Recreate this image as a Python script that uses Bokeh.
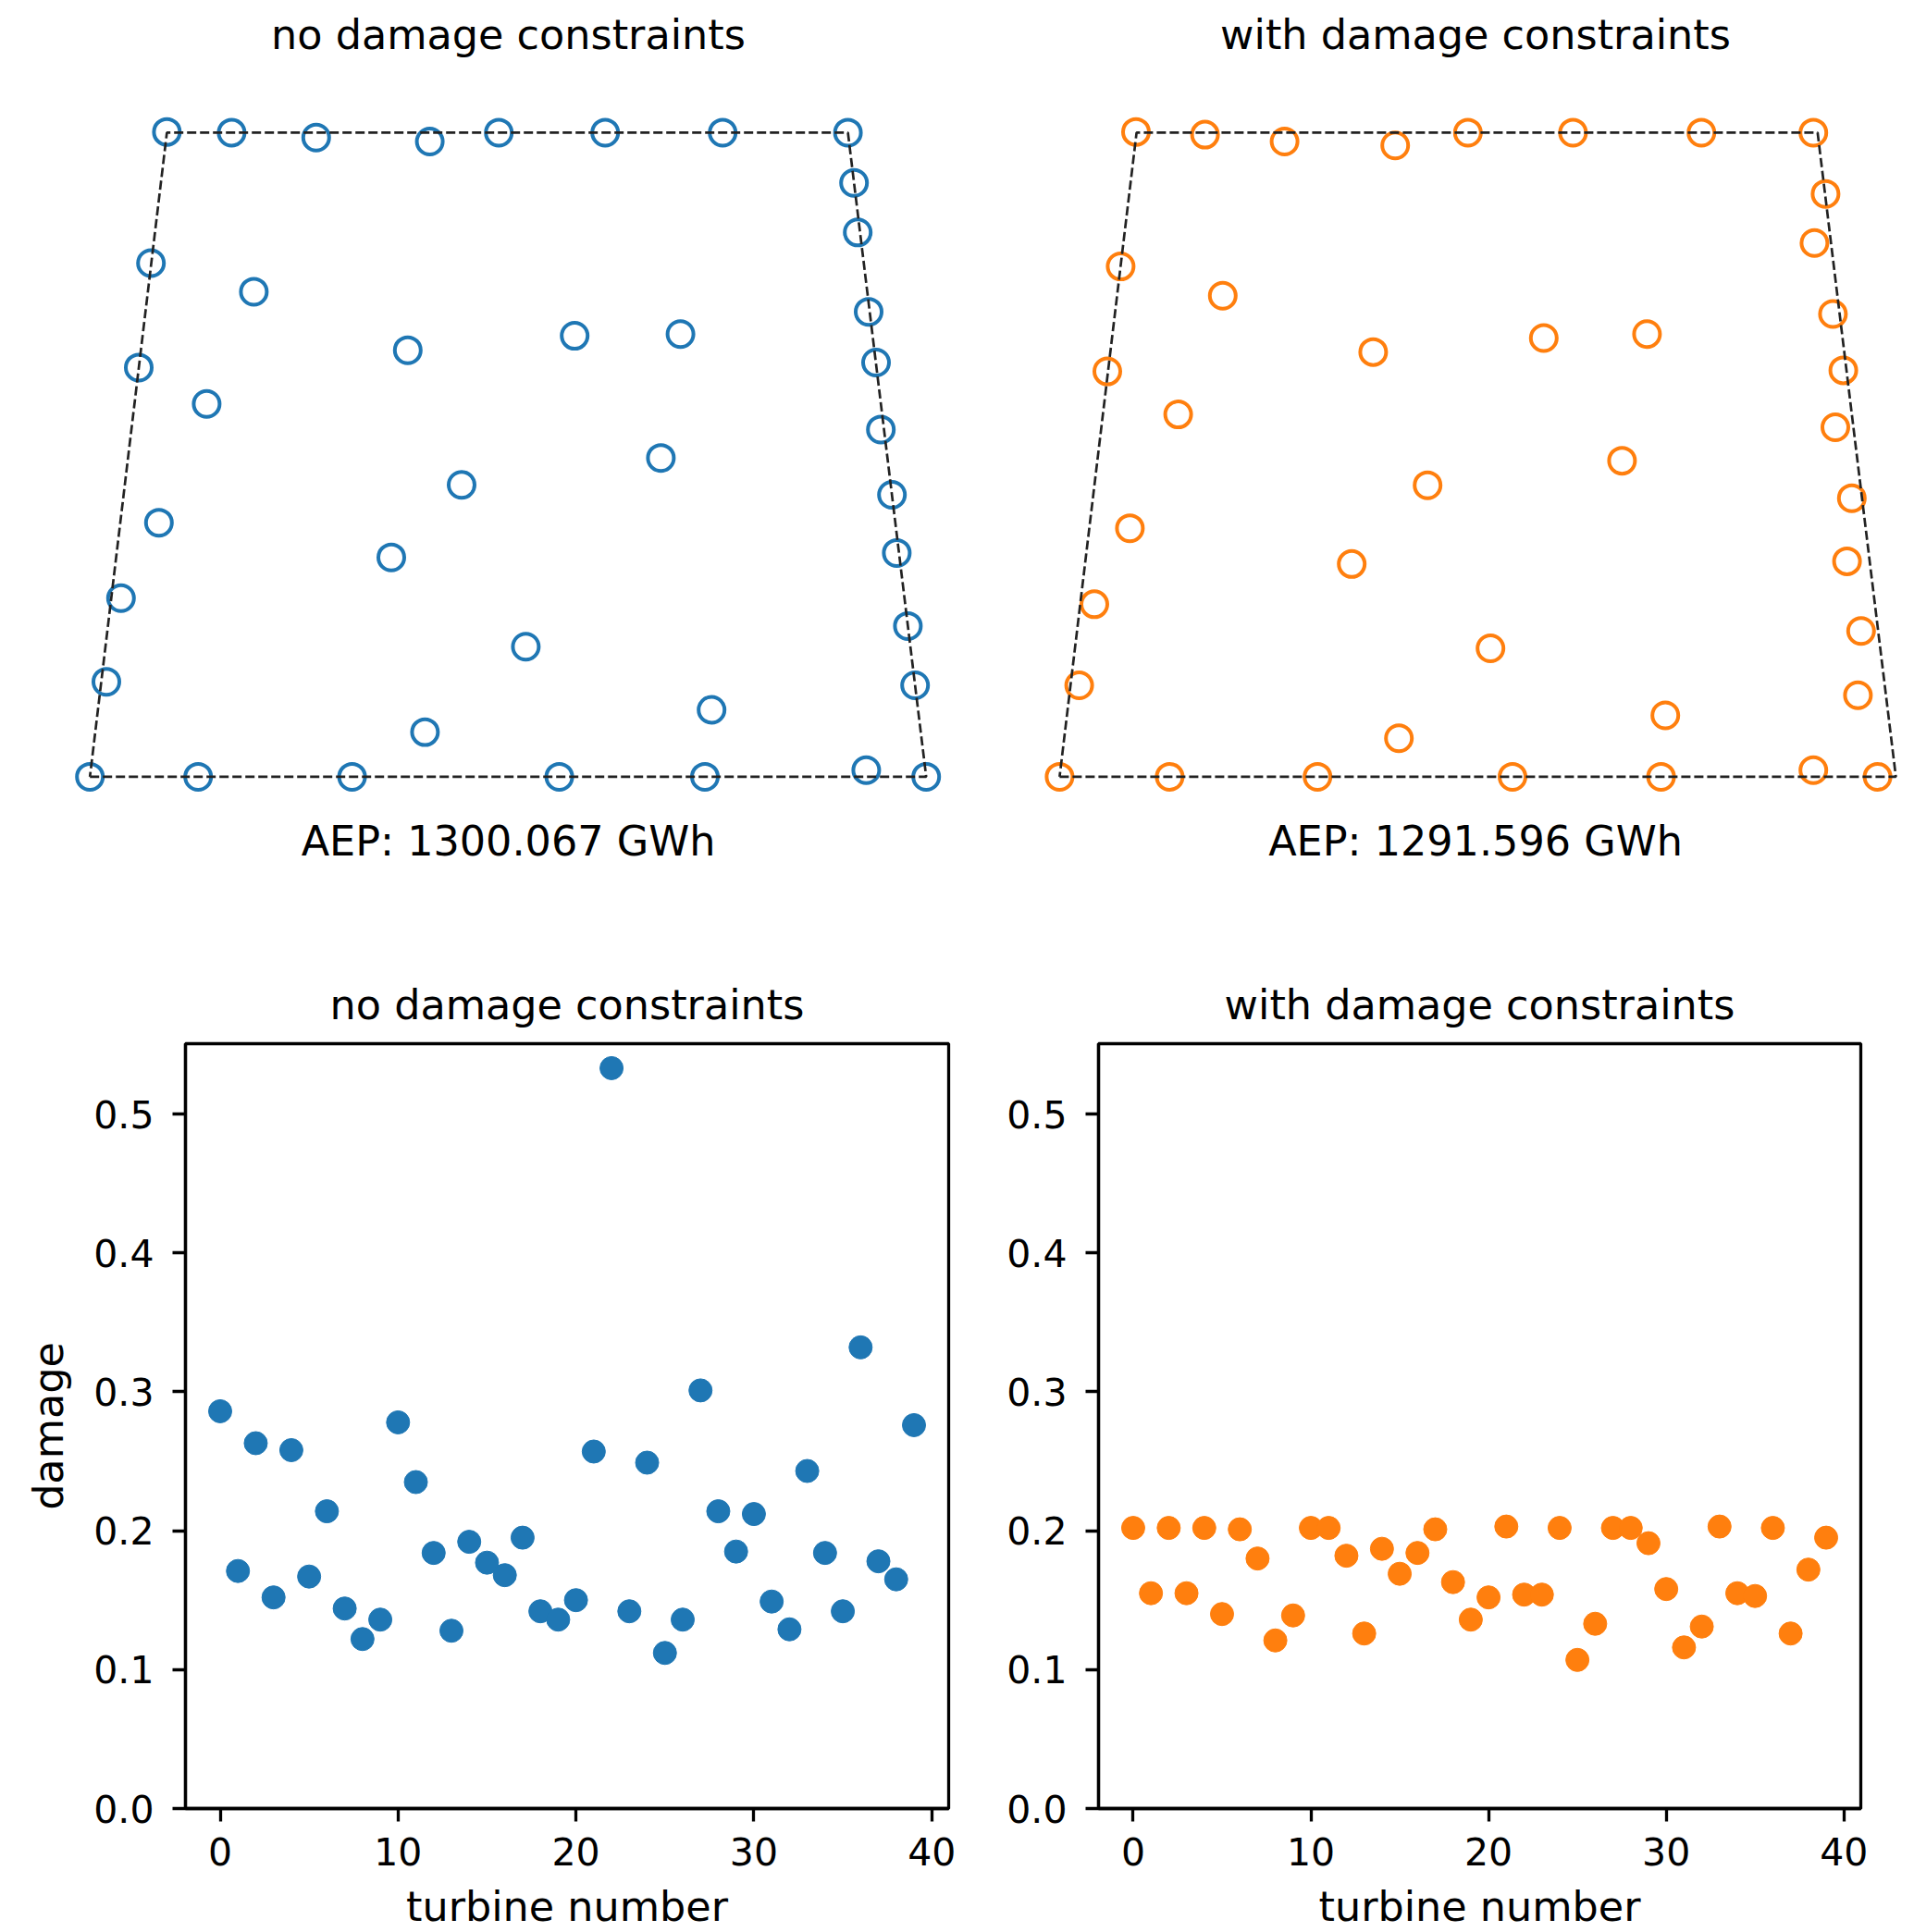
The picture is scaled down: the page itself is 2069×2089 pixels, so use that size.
from bokeh.plotting import figure
from bokeh.models import FixedTicker, NumeralTickFormatter, Title, Range1d
from bokeh.layouts import column, row
from bokeh.embed import file_html
from bokeh.resources import INLINE

FONT = "DejaVu Sans"
BLUE = "#1f77b4"
ORANGE = "#ff7f0e"

# ---------------- data ----------------
boundary_x = [0, 4520, 4097, 416, 0]
boundary_y = [0, 0, 3491, 3491, 0]

# turbine layout without damage constraints (m)
x_free = [416, 766, 1223, 1837, 2210, 2785, 3420, 4097,
          4130, 4150, 4209, 4249, 4275, 4335, 4361, 4421, 4460, 4520,
          0, 585, 1417, 2537, 3324, 4196,
          330, 264, 168, 89,
          886, 1718, 2620, 3192, 631, 3086, 2009, 373, 1629, 2356, 3360, 1811]
y_free = [3495, 3491, 3464, 3443, 3491, 3491, 3491, 3491,
          3219, 2950, 2520, 2245, 1882, 1528, 1213, 817, 496, 0,
          0, 0, 0, 0, 0, 36,
          2784, 2218, 968, 515,
          2629, 2312, 2390, 2399, 2021, 1728, 1582, 1377, 1189, 705, 363, 242]

# turbine layout with damage constraints (m)
x_con = [413, 786, 1216, 1814, 2207, 2775, 3469, 4074,
         4140, 4080, 4180, 4236, 4193, 4282, 4256, 4332, 4315, 4421, 4074,
         0, 595, 1394, 2448, 3251,
         330, 258, 188, 106,
         882, 1695, 2617, 3175, 641, 3040, 1989, 380, 1579, 2329, 3274, 1834]
y_con = [3495, 3480, 3443, 3422, 3491, 3491, 3491, 3491,
         3159, 2893, 2508, 2203, 1894, 1510, 1168, 790, 442, 0, 36,
         0, 0, 0, 0, 0,
         2766, 2197, 935, 496,
         2607, 2302, 2378, 2399, 1964, 1713, 1580, 1347, 1153, 696, 333, 209]

turbine = list(range(40))
damage_free = [0.286, 0.171, 0.263, 0.152, 0.258, 0.167, 0.214, 0.144, 0.122, 0.136,
               0.278, 0.235, 0.184, 0.128, 0.192, 0.177, 0.168, 0.195, 0.142, 0.136,
               0.150, 0.257, 0.533, 0.142, 0.249, 0.112, 0.136, 0.301, 0.214, 0.185,
               0.212, 0.149, 0.129, 0.243, 0.184, 0.142, 0.332, 0.178, 0.165, 0.276]
damage_con = [0.202, 0.155, 0.202, 0.155, 0.202, 0.140, 0.201, 0.180, 0.121, 0.139,
              0.202, 0.202, 0.182, 0.126, 0.187, 0.169, 0.184, 0.201, 0.163, 0.136,
              0.152, 0.203, 0.154, 0.154, 0.202, 0.107, 0.133, 0.202, 0.202, 0.191,
              0.158, 0.116, 0.131, 0.203, 0.155, 0.153, 0.202, 0.126, 0.172, 0.195]

title_free = "no damage constraints"
title_con = "with damage constraints"
aep_free = "AEP: 1300.067 GWh"
aep_con = "AEP: 1291.596 GWh"
x_ticks = [0, 10, 20, 30, 40]
y_ticks = [0.0, 0.1, 0.2, 0.3, 0.4, 0.5]

# ---------------- layout geometry (page pixels) ----------------
M_PER_PX = 5.0
TOP_H = 1000
TOP_MB_TOP = 70
TOP_MB_BOTTOM = 120
Y0_PAGE = 839.3          # page row of layout y = 0
BOT_H = 1089


def style_title(t, size="44.5px"):
    t.text_font = FONT
    t.text_font_size = size
    t.text_font_style = "normal"
    t.text_color = "black"
    t.align = "center"


def layout_fig(width, mb_left, page_left, origin_page_x, xs, ys, color, title, aep):
    frame_w = width - mb_left
    frame_h = TOP_H - TOP_MB_TOP - TOP_MB_BOTTOM
    x0 = -(origin_page_x - (page_left + mb_left)) * M_PER_PX
    y0 = -(frame_h - (Y0_PAGE - TOP_MB_TOP)) * M_PER_PX
    p = figure(width=width, height=TOP_H, output_backend="svg", toolbar_location=None,
               x_range=Range1d(x0, x0 + frame_w * M_PER_PX),
               y_range=Range1d(y0, y0 + frame_h * M_PER_PX),
               min_border_left=mb_left, min_border_right=0,
               min_border_top=TOP_MB_TOP, min_border_bottom=TOP_MB_BOTTOM,
               x_axis_location=None, y_axis_location=None, title=title)
    p.outline_line_color = None
    p.grid.grid_line_color = None
    style_title(p.title)
    p.title.standoff = 19
    t = Title(text=aep, standoff=2)
    style_title(t)
    p.add_layout(t, "below")
    p.scatter(xs, ys, marker="circle", size=28, fill_color=None,
              line_color=color, line_width=4)
    p.line(boundary_x, boundary_y, line_color="#222222", line_width=2.7, line_dash="10 4")
    return p


def damage_fig(width, mb_left, mb_right, ys, color, title, ylabel):
    p = figure(width=width, height=BOT_H, output_backend="svg", toolbar_location=None,
               x_range=Range1d(-1.95, 40.95), y_range=Range1d(0, 0.5506),
               min_border_left=mb_left, min_border_right=mb_right,
               min_border_top=128, min_border_bottom=134, title=title)
    style_title(p.title)
    p.title.standoff = 34
    p.grid.grid_line_color = None
    p.outline_line_color = "black"
    p.outline_line_width = 3.3
    p.outline_line_alpha = 1
    p.scatter(turbine, ys, marker="circle", size=25, fill_color=color, line_color=color)

    p.xaxis.ticker = FixedTicker(ticks=x_ticks, minor_ticks=[])
    p.yaxis.ticker = FixedTicker(ticks=y_ticks, minor_ticks=[])
    p.xaxis.formatter = NumeralTickFormatter(format="0")
    p.yaxis.formatter = NumeralTickFormatter(format="0.0")
    for ax in (p.xaxis[0], p.yaxis[0]):
        ax.axis_line_width = 3.3
        ax.axis_line_color = "black"
        ax.major_tick_line_width = 3.3
        ax.major_tick_line_color = "black"
        ax.major_tick_out = 14
        ax.major_tick_in = 0
        ax.minor_tick_line_color = None
        ax.major_label_text_font = FONT
        ax.major_label_text_font_size = "41px"
        ax.major_label_text_color = "black"
        ax.axis_label_text_font = FONT
        ax.axis_label_text_font_size = "44.5px"
        ax.axis_label_text_font_style = "normal"
        ax.axis_label_text_color = "black"
    p.xaxis.axis_label = "turbine number"
    p.xaxis.major_label_standoff = 17
    p.xaxis.axis_label_standoff = 16
    p.yaxis.major_label_standoff = 20
    p.yaxis.axis_label_standoff = 20
    if ylabel:
        p.yaxis.axis_label = ylabel
    return p


p1 = layout_fig(1050, 48, 0, 96.7, x_free, y_free, BLUE, title_free, aep_free)
p2 = layout_fig(1011, 78, 1050, 1144.9, x_con, y_con, ORANGE, title_con, aep_con)
p3 = damage_fig(1050, 200, 25, damage_free, BLUE, title_free, "damage")
p4 = damage_fig(1011, 137, 50, damage_con, ORANGE, title_con, None)

layout = column(row(p1, p2), row(p3, p4))

open("out.html", "w").write(file_html(layout, INLINE))
